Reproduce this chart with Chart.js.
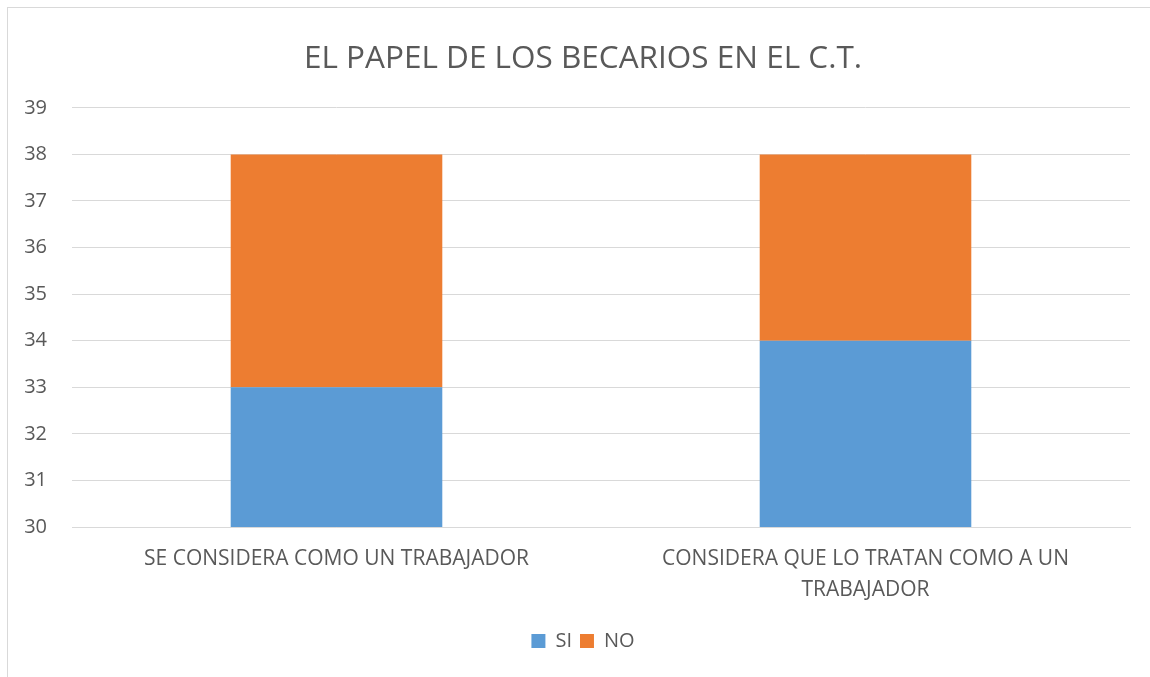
<!DOCTYPE html>
<html>
<head>
<meta charset="utf-8">
<script src="https://cdn.jsdelivr.net/npm/chart.js@4.4.1/dist/chart.umd.min.js"></script>
<style>
  html, body { margin: 0; padding: 0; background: #ffffff; }
  #wrap { position: absolute; left: 0; top: 0; width: 1150px; height: 677px; overflow: hidden; }
  #frame { position: absolute; left: 7px; top: 7px; width: 1200px; height: 700px; border: 1px solid #d9d9d9; box-sizing: border-box; }
  canvas { position: absolute; left: 0; top: 0; }
</style>
</head>
<body>
<div id="wrap">
  <div id="frame"></div>
  <canvas id="c" width="1150" height="677"></canvas>
</div>
<script>
const titleText = "EL PAPEL DE LOS BECARIOS EN EL C.T.";
const categories = [
  "SE CONSIDERA COMO UN TRABAJADOR",
  ["CONSIDERA QUE LO TRATAN COMO A UN", "TRABAJADOR"]
];
const seriesNames = ["SI", "NO"];
const siValues = [33, 34];
const noValues = [5, 4];
const yMin = 30;
const yMax = 39;

const FONT = "'Open Sans', sans-serif";
const TEXT = "#595959";

new Chart(document.getElementById("c"), {
  type: "bar",
  data: {
    labels: categories,
    datasets: [
      { label: seriesNames[0], data: siValues, backgroundColor: "#5B9BD5" },
      { label: seriesNames[1], data: noValues, backgroundColor: "#ED7D31" }
    ]
  },
  options: {
    responsive: false,
    animation: false,
    layout: { padding: { left: 20, right: 4, top: 0, bottom: 16 } },
    datasets: { bar: { barPercentage: 0.4, categoryPercentage: 1.0 } },
    plugins: {
      title: {
        display: true,
        text: titleText,
        color: TEXT,
        font: { family: FONT, size: 31.5, weight: "normal" },
        padding: { top: 40, bottom: 30 }
      },
      legend: {
        position: "bottom",
        labels: {
          color: TEXT,
          font: { family: FONT, size: 20 },
          boxWidth: 14,
          boxHeight: 14,
          padding: 8
        }
      },
      tooltip: { enabled: false }
    },
    scales: {
      x: {
        stacked: true,
        grid: { display: false, drawTicks: false },
        border: { display: true, color: "#d9d9d9", width: 1 },
        ticks: {
          color: TEXT,
          font: { family: FONT, size: 21, lineHeight: 1.476 },
          maxRotation: 0,
          minRotation: 0,
          autoSkip: false,
          padding: 17
        }
      },
      y: {
        stacked: true,
        min: yMin,
        max: yMax,
        grid: { color: "#d9d9d9", drawTicks: false },
        border: { display: false },
        ticks: {
          stepSize: 1,
          color: TEXT,
          font: { family: FONT, size: 20 },
          padding: 25
        },
        afterFit: function (scale) { scale.width = 52; }
      },
      yRight: {
        position: "right",
        display: true,
        min: yMin,
        max: yMax,
        grid: { display: false, drawTicks: false },
        border: { display: false },
        ticks: { display: false },
        afterFit: function (scale) { scale.width = 16; }
      }
    }
  }
});
</script>
</body>
</html>
